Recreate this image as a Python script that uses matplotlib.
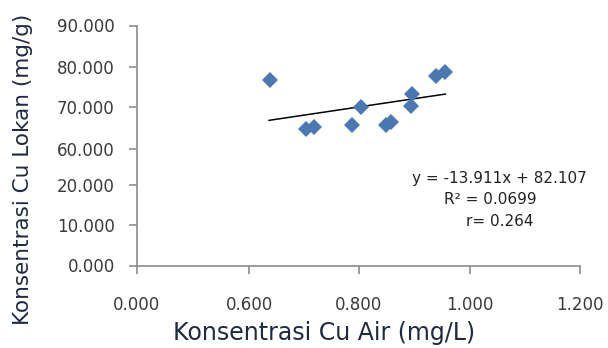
import numpy as np
import matplotlib
matplotlib.use('Agg')
import matplotlib.pyplot as plt

# data
cu_air   = [0.638, 0.703, 0.718, 0.788, 0.805, 0.849, 0.859, 0.897, 0.894, 0.939, 0.956]
cu_lokan = [76.8, 64.9, 65.3, 65.7, 70.0, 65.7, 66.6, 73.2, 70.3, 77.9, 78.7]

# trendline as drawn in the picture
trend_x = [0.636, 0.956]
trend_y = [66.9, 73.3]

# broken axes: labelled values and their slot on the axis
xtick_vals  = [0.0, 0.6, 0.8, 1.0, 1.2]
xtick_slots = [0, 1.02, 2.01, 3.02, 4.02]
ytick_vals  = [0, 10, 20, 60, 70, 80, 90]
ytick_slots = [0, 0.98, 1.96, 2.81, 3.83, 4.80, 5.81]

def xs(v):
    return np.interp(v, xtick_vals, xtick_slots)

def ys(v):
    return np.interp(v, ytick_vals, ytick_slots)

fig = plt.figure(figsize=(6.08, 3.48), dpi=100)
ax = fig.add_axes([137/608, 1-265.5/348, 443/608, 240/348])

ax.plot(xs(trend_x), ys(trend_y), color='black', lw=1.1, zorder=2)
ax.plot(xs(cu_air), ys(cu_lokan), 'D', color='#4a78b0', ms=7.8, mew=0, zorder=3)

ax.set_xlim(0, xtick_slots[-1])
ax.set_ylim(0, ytick_slots[-1])
ax.set_xticks(xtick_slots)
ax.set_xticklabels([f'{v:.3f}' for v in xtick_vals])
ax.set_yticks(ytick_slots)
ax.set_yticklabels([f'{v:.3f}' for v in ytick_vals])

for s in ['top', 'right']:
    ax.spines[s].set_visible(False)
for s in ['left', 'bottom']:
    ax.spines[s].set_color('#8c8c8c')
    ax.spines[s].set_linewidth(1.2)
ax.tick_params(axis='both', colors='#8c8c8c', length=6, width=1.2, labelcolor='#3a3a3a', labelsize=12)
ax.tick_params(axis='y', pad=10)
ax.tick_params(axis='x', pad=16)
ax.set_facecolor('none')

fig.text(324/608, 1-333/348, 'Konsentrasi Cu Air (mg/L)', ha='center', va='center',
         fontsize=17, color='#1f2a40')
fig.text(23/608, 1-169/348, 'Konsentrasi Cu Lokan (mg/g)', ha='center', va='center',
         rotation=90, fontsize=15.5, color='#1f2a40')

eq_font = dict(family='DejaVu Sans', fontsize=11, color='#222222', ha='center', va='center')
fig.text(499/608, 1-178/348, 'y = -13.911x + 82.107', **eq_font)
fig.text(490/608, 1-200/348, 'R² = 0.0699', **eq_font)
fig.text(500/608, 1-221/348, 'r= 0.264', **eq_font)

fig.savefig('out.png', dpi=100)
